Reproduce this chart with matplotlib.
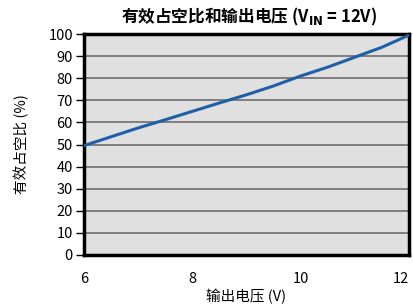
import numpy as np
import matplotlib
matplotlib.use("Agg")
import matplotlib.pyplot as plt

plt.rcParams['font.family'] = ['Noto Sans CJK SC', 'DejaVu Sans']

# output voltage (V) vs duty cycle (%), Vin = 12V
vout = [6.0, 6.5, 7.0, 7.5, 8.0, 8.5, 9.0, 9.5, 10.0, 10.5, 11.0, 11.5, 12.0]
duty = [49.5, 53.5, 57.5, 61.2, 65.0, 68.8, 72.5, 76.5, 81.0, 85.0, 89.5, 94.0, 99.5]

x_ticks = [6, 8, 10, 12]
y_ticks = list(range(0, 101, 10))

fig = plt.figure(figsize=(4.13, 3.05), dpi=100)
ax = fig.add_axes([84/413, 1 - 255/305, 325/413, 221/305])
ax.set_facecolor('#e0e0e0')

ax.plot(vout, duty, color='#1f5fa8', lw=2.2, zorder=3)

ax.set_xlim(6, 12)
ax.set_ylim(0, 100)
ax.set_xticks(x_ticks)
ax.set_yticks(y_ticks)
ax.grid(axis='y', color='#6e6e6e', lw=1.2)
ax.set_axisbelow(True)

for s in ax.spines.values():
    s.set_linewidth(2.5)
    s.set_color('black')

ax.tick_params(axis='y', direction='out', length=6, width=1, labelsize=10.5, pad=2)
ax.tick_params(axis='x', length=0, labelsize=10.5, pad=12)
ax.get_xticklabels()[-1].set_horizontalalignment('right')
ax.get_xticklabels()[-1].set_x(12.08)

ax.set_xlabel('输出电压 (V)', fontsize=10.5, labelpad=2)
ax.set_ylabel('有效占空比 (%)', fontsize=10.5, labelpad=14)
fig.text(0.603, 0.945, r'有效占空比和输出电压 (V$_{\mathbf{IN}}$ = 12V)',
         ha='center', va='center', fontsize=12, fontweight='bold')

fig.savefig('out.png', dpi=100)
